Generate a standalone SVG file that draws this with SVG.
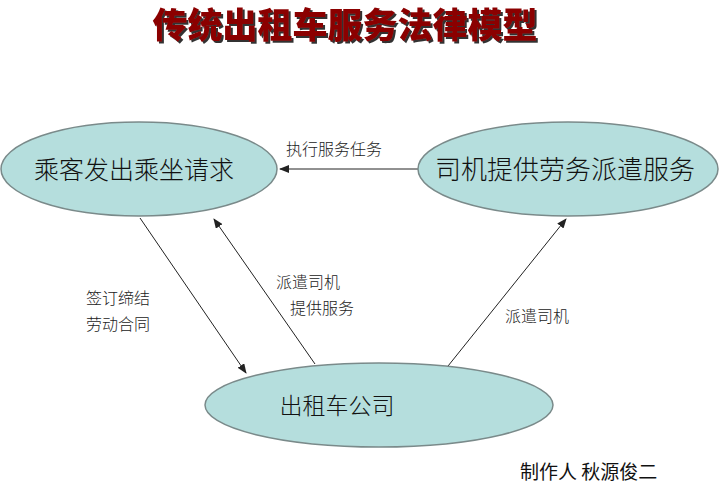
<svg xmlns="http://www.w3.org/2000/svg" width="720" height="499" viewBox="0 0 720 499">
<style>
.n{fill:#b5dedd;stroke:#7a8a8a;stroke-width:1.5}
.t{font-family:"Noto Sans CJK SC",sans-serif;font-weight:300;fill:#111;text-anchor:middle}
.c{stroke:#222;stroke-width:1;fill:none;marker-end:url(#a)}
.l{font-family:"Noto Sans CJK SC",sans-serif;font-weight:300;font-size:16px;fill:#222}
</style>
<defs><marker id="a" markerWidth="10" markerHeight="8" refX="9" refY="4" orient="auto" markerUnits="userSpaceOnUse"><path d="M0,0 L10,4 L0,8 z" fill="#222"/></marker>
<filter id="s" filterUnits="userSpaceOnUse" x="100" y="0" width="500" height="60"><feDropShadow dx="2" dy="2" stdDeviation="0.6" flood-color="#333"/></filter></defs>
<rect width="720" height="499" fill="#fff"/>
<g id="title"><text x="345" y="38" fill="#8b0000" font-family="'Noto Sans CJK SC',sans-serif" font-weight="900" font-size="35" text-anchor="middle" filter="url(#s)">传统出租车服务法律模型</text></g>
<g id="connectors">
<line class="c" x1="418" y1="169" x2="280" y2="169"/>
<line class="c" x1="140" y1="218" x2="246" y2="373"/>
<line class="c" x1="315" y1="364" x2="214" y2="219"/>
<line class="c" x1="440" y1="376" x2="566" y2="219"/>
<text class="l" x="286" y="155">执行服务任务</text>
<text class="l" x="86" y="304">签订缔结</text>
<text class="l" x="86" y="330">劳动合同</text>
<text class="l" x="276" y="288">派遣司机</text>
<text class="l" x="290" y="314">提供服务</text>
<text class="l" x="505" y="322">派遣司机</text>
</g>
<g id="n1"><ellipse class="n" cx="139" cy="169" rx="138" ry="47"/><text class="t" x="134" y="179" font-size="25">乘客发出乘坐请求</text></g>
<g id="n2"><ellipse class="n" cx="568" cy="169" rx="150" ry="47"/><text class="t" x="565" y="179" font-size="26">司机提供劳务派遣服务</text></g>
<g id="n3"><ellipse class="n" cx="379" cy="405" rx="174" ry="42"/><text class="t" x="337" y="414" font-size="23">出租车公司</text></g>
<text x="520" y="479" font-family="'Noto Sans CJK SC',sans-serif" font-size="19" fill="#111">制作人 秋源俊二</text>
</svg>
